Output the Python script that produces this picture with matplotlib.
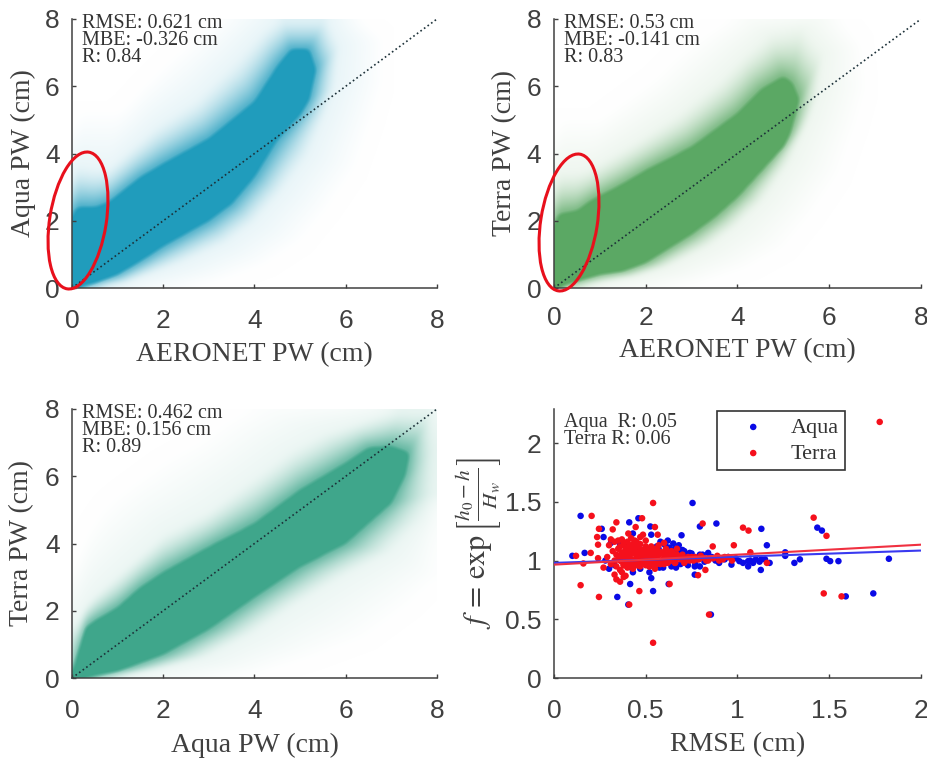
import numpy as np
import matplotlib
matplotlib.use('Agg')
import matplotlib.pyplot as plt
from matplotlib.colors import to_rgb
from matplotlib.patches import Ellipse
from matplotlib.path import Path
from matplotlib.transforms import IdentityTransform

plt.rcParams['font.family'] = ['Liberation Sans', 'DejaVu Sans']
plt.rcParams['mathtext.fontset'] = 'stix'

# outlines of the point clouds (same vertex order in each)
aqua_core_x = [0, 0.01, 0.1, 0.5, 0.8, 1.5, 2, 3, 4, 4.5, 4.8, 5.2, 5.35, 5.2, 5, 4.5, 4, 3.5, 3, 2, 1.5, 1, 0.5]
aqua_core_y = [0, 2.0, 2.4, 2.4, 2.55, 3.3, 3.7, 4.45, 5.55, 6.6, 7.1, 7.1, 6.5, 5.6, 5.15, 4.4, 3.3, 2.5, 2.0, 1.24, 0.8, 0.4, 0.15]
aqua_halo_x = [0, 0, 0.1, 0.5, 0.8, 1.3, 1.8, 2.7, 3.6, 4.2, 4.6, 5.6, 5.9, 5.8, 5.6, 5.2, 4.6, 4.0, 3.4, 2.4, 1.8, 1.2, 0.6]
aqua_halo_y = [0, 3.2, 3.7, 3.6, 3.6, 4.2, 4.8, 5.6, 6.8, 7.7, 8.1, 8.1, 7.2, 6.0, 5.2, 3.9, 2.8, 1.9, 1.3, 0.7, 0.4, 0.1, 0]
aqua_far_x = [0, 0, 0.2, 0.6, 1.0, 1.2, 1.6, 2.2, 2.8, 3.4, 3.8, 6.2, 6.8, 6.8, 6.6, 6.2, 5.6, 5.0, 4.2, 3.2, 2.4, 1.6, 0.8]
aqua_far_y = [0, 4.5, 5.2, 5.2, 5.2, 5.4, 6.0, 6.8, 7.5, 8.1, 8.1, 8.1, 7.4, 6.2, 5.2, 3.6, 2.4, 1.4, 0.7, 0.2, 0, 0, 0]

terra_core_x = [0, 0.02, 0.1, 0.5, 0.8, 1.5, 2, 3, 4, 4.5, 5, 5.2, 5.35, 5.15, 5, 4.5, 4, 3.5, 3, 2, 1.5, 1, 0.5]
terra_core_y = [0, 1.8, 2.2, 2.3, 2.6, 3.1, 3.5, 4.2, 5.2, 5.9, 6.3, 6.1, 5.6, 4.6, 4.2, 3.45, 2.7, 2.1, 1.6, 0.75, 0.5, 0.4, 0.2]
terra_halo_x = [0, 0, 0.1, 0.5, 0.8, 1.3, 1.8, 2.7, 3.6, 4.1, 4.7, 5.4, 5.9, 5.8, 5.6, 5.2, 4.6, 4.0, 3.4, 2.5, 1.8, 1.2, 0.6]
terra_halo_y = [0, 3.0, 3.5, 3.5, 3.6, 4.0, 4.4, 5.2, 6.2, 6.9, 7.6, 7.8, 7.0, 5.8, 5.0, 3.8, 2.6, 1.8, 1.2, 0.6, 0.3, 0.15, 0]
terra_far_x = [0, 0, 0.2, 0.6, 1.0, 1.2, 1.6, 2.2, 2.8, 3.4, 4.0, 6.2, 6.7, 6.8, 6.6, 6.2, 5.6, 5.0, 4.2, 3.2, 2.4, 1.6, 0.8]
terra_far_y = [0, 4.4, 5.0, 5.0, 5.0, 5.2, 5.6, 6.2, 7.0, 7.6, 8.1, 8.1, 7.2, 6.0, 5.0, 3.4, 2.2, 1.2, 0.6, 0.15, 0, 0, 0]

both_core_x = [0, 0.1, 0.3, 0.5, 1, 1.5, 2, 3, 4, 5, 6, 6.5, 7, 7.4, 7.3, 7, 6.5, 6, 5, 4, 3, 2, 1, 0.5]
both_core_y = [0, 0.6, 1.5, 1.7, 2.1, 2.7, 3.15, 3.9, 4.6, 5.6, 6.4, 6.85, 6.9, 6.7, 6.0, 5.2, 4.6, 4.0, 3.3, 2.4, 1.45, 0.7, 0.2, 0.08]
both_halo_x = [0, 0, 0.3, 0.5, 1, 1.5, 2, 3, 4, 4.8, 5.5, 6.2, 7.2, 7.9, 8.05, 8.05, 7.7, 7, 6, 5, 4, 3, 2, 1]
both_halo_y = [0, 1.5, 2.2, 2.5, 3.1, 3.7, 4.3, 5.0, 6.0, 6.8, 7.3, 7.6, 8.05, 8.05, 7, 5.5, 4.7, 3.7, 3.0, 2.2, 1.3, 0.6, 0.25, 0.02]
both_far_x = [0, 0, 0.2, 0.4, 0.7, 1, 1.4, 2, 2.8, 3.4, 4, 4.6, 8.05, 8.05, 8.05, 8.05, 8.05, 8, 7.4, 6.4, 5.2, 4, 3, 1.8]
both_far_y = [0, 3.0, 3.8, 4.4, 5.0, 5.4, 5.8, 6.4, 7.0, 7.6, 8.05, 8.05, 8.05, 8.05, 8.05, 6, 4.5, 3.0, 2.2, 1.2, 0.6, 0.1, 0, 0]

# bottom right scatter
aqua_rmse = [0.1, 0.145, 0.167, 0.26, 0.27, 0.345, 0.41, 0.415, 0.43, 0.43, 0.46, 0.525, 0.53, 0.53, 0.54,
             0.625, 0.695, 0.755, 0.795, 0.885, 0.855, 1.13, 1.16, 1.127, 1.26, 1.26, 1.31, 1.34, 1.435, 1.46,
             1.485, 1.505, 1.55, 1.59, 1.74, 1.825, 0.405, 0.61, 0.65, 0.70, 0.74, 0.795, 0.84, 0.575, 0.595,
             0.665, 0.767, 0.767, 0.795, 0.967, 1.01, 1.058, 1.058, 1.085, 1.10, 1.13, 1.15, 1.175, 0.30, 0.56,
             0.50, 0.36, 0.31, 0.66, 0.72, 0.78, 0.88, 0.93, 0.99, 0.62, 0.58, 0.45, 0.39, 0.69, 0.82,
             0.6, 0.63, 0.68, 0.71, 0.75, 0.77, 0.81, 0.86, 0.9, 0.95, 1.03, 1.07, 1.12, 0.64, 0.57, 0.68,
             0.73, 0.52, 0.47, 0.42, 0.33, 0.28]
aqua_f = [1.04, 1.38, 1.065, 1.27, 1.2, 0.69, 1.325, 0.80, 0.90, 1.23, 1.36, 1.29, 1.22, 0.85, 0.74,
          0.80, 1.215, 1.49, 1.29, 1.315, 0.54, 1.27, 1.13, 0.92, 1.07, 1.04, 0.98, 1.01, 1.28, 1.255,
          1.015, 0.995, 0.995, 0.695, 0.72, 1.015, 0.625, 1.12, 1.145, 1.09, 1.065, 1.05, 1.065, 0.94, 0.94,
          0.94, 0.88, 0.95, 0.95, 0.965, 0.995, 0.95, 0.995, 0.98, 1.01, 1.01, 1.01, 0.98, 0.93, 1.12,
          1.11, 1.135, 1.15, 1.1, 1.04, 1.02, 1.0, 1.01, 1.02, 1.17, 1.16, 1.08, 1.12, 0.97, 0.99,
          1.14, 1.11, 1.13, 1.08, 1.06, 0.97, 1.05, 1.03, 0.98, 1.03, 0.98, 1.0, 0.99, 0.95, 1.1, 1.07,
          0.96, 0.9, 0.93, 0.94, 0.96, 1.0]

terra_rmse = [0.12, 0.145, 0.205, 0.2, 0.16, 0.245, 0.245, 0.235, 0.24, 0.32, 0.34, 0.405, 0.445, 0.48, 0.485,
              0.55, 0.565, 0.54, 0.465, 0.41, 0.54, 0.63, 0.785, 0.81, 0.845, 0.825, 0.865, 0.98, 1.03, 1.06,
              1.07, 1.16, 1.415, 1.485, 1.47, 1.567, 1.775,
              0.24, 0.27, 0.29, 0.3, 0.31, 0.32, 0.33, 0.33, 0.34, 0.34, 0.35, 0.35, 0.36, 0.36, 0.36, 0.37,
              0.37, 0.37, 0.38, 0.38, 0.38, 0.39, 0.39, 0.39, 0.39, 0.4, 0.4, 0.4, 0.41, 0.41, 0.41, 0.42,
              0.42, 0.42, 0.43, 0.43, 0.43, 0.44, 0.44, 0.45, 0.45, 0.45, 0.46, 0.46, 0.47, 0.47, 0.47, 0.48,
              0.48, 0.49, 0.49, 0.5, 0.5, 0.51, 0.51, 0.52, 0.52, 0.53, 0.53, 0.54, 0.54, 0.55, 0.55, 0.56,
              0.57, 0.57, 0.58, 0.59, 0.6, 0.6, 0.61, 0.62, 0.63, 0.64, 0.65, 0.66, 0.67, 0.68, 0.7, 0.72,
              0.75, 0.78, 0.8, 0.83, 0.86, 0.89, 0.92, 0.95, 0.97, 0.34, 0.36, 0.38, 0.35, 0.37, 0.4, 0.42,
              0.44, 0.31, 0.33, 0.45, 0.5, 0.55, 0.6, 0.52, 0.47,
              0.36, 0.38, 0.4, 0.42, 0.44, 0.46, 0.48, 0.5, 0.52, 0.54, 0.56, 0.58, 0.6, 0.62, 0.64, 0.66,
              0.37, 0.39, 0.41, 0.43, 0.45, 0.47, 0.49, 0.51, 0.53, 0.55, 0.57, 0.59, 0.61, 0.63, 0.65, 0.67,
              0.38, 0.4, 0.42, 0.44, 0.46, 0.48, 0.5, 0.52, 0.54, 0.56, 0.58, 0.62, 0.66, 0.7, 0.74, 0.77,
              0.79, 0.82, 0.84, 0.87, 0.9, 0.93, 0.69, 0.71, 0.73, 0.76]
terra_f = [1.04, 0.79, 1.38, 1.065, 0.975, 0.69, 1.27, 1.2, 1.135, 1.265, 1.325, 1.23, 1.285, 1.36, 1.22,
           1.285, 1.22, 1.49, 0.74, 0.625, 0.30, 0.80, 0.875, 1.315, 0.54, 0.92, 1.12, 1.13, 1.28, 1.255,
           1.07, 0.98, 1.365, 1.21, 0.72, 0.695, 2.18,
           1.02, 0.94, 1.03, 1.13, 0.97, 1.08, 1.0, 0.88, 1.05, 0.95, 1.1, 1.01, 0.92, 1.04, 1.12, 0.99,
           1.07, 0.9, 1.01, 1.15, 0.96, 1.06, 1.0, 0.87, 1.11, 1.03, 0.94, 1.08, 0.99, 1.13, 1.04, 0.97,
           1.09, 1.01, 0.93, 1.06, 1.14, 1.0, 1.1, 0.96, 1.03, 1.12, 0.98, 1.07, 1.01, 1.14, 0.95, 1.05,
           1.09, 0.99, 1.02, 1.12, 0.97, 1.06, 1.0, 1.08, 0.95, 1.03, 1.12, 0.98, 1.06, 1.1, 1.01, 0.97,
           1.05, 1.13, 1.0, 1.07, 1.02, 0.97, 1.1, 1.04, 1.0, 1.08, 1.03, 0.98, 1.1, 1.02, 1.05, 1.0,
           1.03, 1.01, 1.04, 1.0, 1.02, 1.04, 1.01, 1.03, 1.0, 0.84, 0.82, 0.86, 1.17, 1.18, 1.16, 1.19,
           1.17, 1.18, 1.16, 1.16, 1.17, 0.93, 1.15, 0.95, 1.2,
           1.0, 1.02, 1.04, 1.01, 0.99, 1.03, 1.0, 1.05, 1.02, 0.99, 1.03, 1.0, 1.02, 1.04, 1.0, 1.03,
           1.06, 1.08, 1.06, 1.08, 1.07, 1.09, 1.07, 1.09, 1.07, 1.06, 1.08, 1.06, 1.05, 1.07, 1.06, 1.05,
           0.96, 0.97, 0.96, 0.97, 0.96, 0.97, 0.96, 0.97, 0.97, 0.98, 0.97, 0.98, 0.98, 1.02, 1.0, 1.03,
           1.01, 1.02, 1.0, 1.02, 1.0, 1.03, 1.01, 0.98, 1.03, 1.0]

fit_x = [0, 2]
aqua_fit = [0.98, 1.085]
terra_fit = [0.965, 1.135]

pw_ticks = [0, 2, 4, 6, 8]
diag = [0, 8]

W, H = 928, 762
fig = plt.figure(figsize=(W / 100, H / 100), dpi=100)


def add_panel(left, right, top, bottom):
    return fig.add_axes([left / W, 1 - bottom / H, (right - left) / W, (bottom - top) / H])


def blur(img, sigma):
    # gaussian blur that does not fade at the axes edges
    r = int(3 * sigma)
    k = np.exp(-0.5 * (np.arange(-r, r + 1) / sigma) ** 2)
    k /= k.sum()
    def run(a):
        a = np.apply_along_axis(lambda v: np.convolve(v, k, mode='same'), 0, a)
        return np.apply_along_axis(lambda v: np.convolve(v, k, mode='same'), 1, a)
    return run(img) / run(np.ones_like(img))


def ramp(pts, inner, outer, steps, shape):
    # 1 inside the inner outline, falling to 0 at the outer one
    total = np.zeros(shape)
    for t in np.linspace(0, 1, steps):
        total += Path(outer + (inner - outer) * t).contains_points(pts).reshape(shape)
    return total / steps


def cloud_image(box, color, core, halo, far):
    nx, ny = box[1] - box[0], box[3] - box[2]
    gx, gy = np.meshgrid((np.arange(nx) + 0.5) * 8 / nx, (np.arange(ny) + 0.5) * 8 / ny)
    pts = np.column_stack([gx.ravel(), gy.ravel()])
    core = np.array(core, dtype=float).T
    halo = np.array(halo, dtype=float).T
    far = np.array(far, dtype=float).T
    shape = gx.shape
    a_core = blur(Path(core).contains_points(pts).reshape(shape).astype(float), 3)
    a_core = np.clip((a_core - 0.5) * 2.2 + 0.5, 0, 1)
    a_halo = 0.85 * blur(ramp(pts, core, halo, 16, shape), 3) ** 1.7
    a_far = 0.1 * blur(ramp(pts, halo, far, 10, shape), 4)
    alpha = 1 - (1 - a_core) * (1 - a_halo) * (1 - a_far)
    rgb = np.array(to_rgb(color))
    return 1 - alpha[..., None] * (1 - rgb)


def style_axes(ax, xlim, ylim, xticks, yticks, xpad=15, ypad=9):
    ax.set_xlim(xlim)
    ax.set_ylim(ylim)
    ax.set_xticks(xticks)
    ax.set_yticks(yticks)
    ax.spines['top'].set_visible(False)
    ax.spines['right'].set_visible(False)
    for side in ['left', 'bottom']:
        ax.spines[side].set_linewidth(1.1)
        ax.spines[side].set_color('#404040')
    ax.tick_params(direction='in', length=3, width=1, color='#404040', labelcolor='#404040', labelsize=19)
    ax.tick_params(axis='x', pad=xpad)
    ax.tick_params(axis='y', pad=ypad)


def set_labels(ax, xlabel, ylabel, xlab_y, ylab_x, box, size=20):
    left, right, top, bottom = box
    ax.set_xlabel(xlabel, family='Liberation Serif', fontsize=size, color='#404040', va='center')
    ax.set_ylabel(ylabel, family='Liberation Serif', fontsize=size, color='#404040', va='center')
    ax.xaxis.set_label_coords(0.5, (bottom - xlab_y) / (bottom - top))
    ax.yaxis.set_label_coords((ylab_x - left) / (right - left), 0.5)


def stats_text(ax, lines, box):
    left, right, top, bottom = box
    for i, line in enumerate(lines):
        ax.text((82 - 72) / (right - left), (bottom - top - 4 - 17.5 * i) / (bottom - top), line,
                transform=ax.transAxes, family='Liberation Serif', fontsize=14.5, color='#333333',
                va='center', ha='left', clip_on=False)


def pw_panel(box, color, core, halo, far, xlabel, ylabel, xlab_y, ylab_x, lines, xpad=15):
    ax = add_panel(*box)
    ax.imshow(cloud_image(box, color, core, halo, far), origin='lower', extent=(0, 8, 0, 8),
              aspect='auto', interpolation='bilinear')
    ax.plot(diag, diag, ls=':', color='#1c3038', lw=1.2)
    style_axes(ax, (0, 8), (0, 8), pw_ticks, pw_ticks, xpad=xpad)
    set_labels(ax, xlabel, ylabel, xlab_y, ylab_x, box)
    stats_text(ax, lines, box)
    return ax


box1 = (72, 437, 19, 288)
box2 = (554, 921, 19, 288)
box3 = (72, 437, 409, 678)
box4 = (554, 921, 409, 678)

pw_panel(box1, '#219cbc', (aqua_core_x, aqua_core_y), (aqua_halo_x, aqua_halo_y), (aqua_far_x, aqua_far_y),
         'AERONET PW (cm)', 'Aqua PW (cm)', 355, 23, ['RMSE: 0.621 cm', 'MBE: -0.326 cm', 'R: 0.84'])
pw_panel(box2, '#5ba865', (terra_core_x, terra_core_y), (terra_halo_x, terra_halo_y), (terra_far_x, terra_far_y),
         'AERONET PW (cm)', 'Terra PW (cm)', 351, 505, ['RMSE: 0.53 cm', 'MBE: -0.141 cm', 'R: 0.83'], xpad=13)
pw_panel(box3, '#3fa68b', (both_core_x, both_core_y), (both_halo_x, both_halo_y), (both_far_x, both_far_y),
         'Aqua PW (cm)', 'Terra PW (cm)', 745, 22, ['RMSE: 0.462 cm', 'MBE: 0.156 cm', 'R: 0.89'])

# bottom right panel
ax4 = add_panel(*box4)
ax4.scatter(aqua_rmse, aqua_f, s=22, color='#0a0ae6', edgecolors='none', label='Aqua', zorder=3)
ax4.scatter(terra_rmse, terra_f, s=22, color='#f5101c', edgecolors='none', label='Terra', zorder=4)
ax4.plot(fit_x, aqua_fit, color='#3a3af0', lw=1.5, zorder=5)
ax4.plot(fit_x, terra_fit, color='#f03040', lw=1.5, zorder=5)
style_axes(ax4, (0, 2), (0, 2.29), [0, 0.5, 1, 1.5, 2], [0, 0.5, 1, 1.5, 2])
ax4.set_xticklabels(['0', '0.5', '1', '1.5', '2'])
ax4.set_yticklabels(['0', '0.5', '1', '1.5', '2'])
set_labels(ax4, 'RMSE (cm)', r'$f\,=\,\exp\left[\frac{h_0-h}{H_w}\right]$', 745, 478, box4)
ax4.yaxis.label.set_size(22)
ax4.text(10 / 367, 1 - 13 / 269, 'Aqua  R: 0.05', transform=ax4.transAxes, family='Liberation Serif',
         fontsize=14.5, color='#333333', va='center')
ax4.text(10 / 367, 1 - 31 / 269, 'Terra R: 0.06', transform=ax4.transAxes, family='Liberation Serif',
         fontsize=14.5, color='#333333', va='center')
leg = ax4.legend(loc='upper left', bbox_to_anchor=((717 - 554) / 367, 1 - 2 / 269), borderaxespad=0,
                 frameon=True, fancybox=False, framealpha=1, edgecolor='#333333',
                 prop={'family': 'Liberation Serif', 'size': 16}, labelcolor='#333333',
                 handletextpad=0.35, borderpad=0.28, labelspacing=0.25, handlelength=2.7)
leg.get_frame().set_linewidth(1.2)
leg.set_zorder(2)

# red circles on the two top panels, placed in pixels
for cx, cy in [(78, 220.5), (569, 222.5)]:
    fig.add_artist(Ellipse((cx, H - cy), 56.6, 138.4, angle=-9, fill=False, ec='#e8101c', lw=2.2,
                           transform=IdentityTransform()))

fig.savefig('out.png', dpi=100)
